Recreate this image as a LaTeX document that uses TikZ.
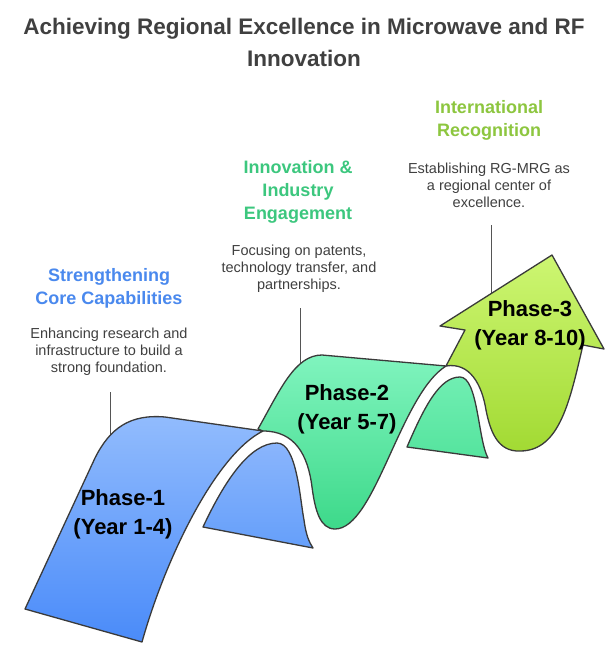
\documentclass[tikz,border=0pt]{standalone}
\usepackage{fontspec}
\setmainfont{Liberation Sans}
\definecolor{edge}{HTML}{3A3A3A}
\definecolor{conngray}{HTML}{555555}
\definecolor{titlegray}{HTML}{404040}
\definecolor{descgray}{HTML}{404040}
\definecolor{headblue}{HTML}{4A89EE}
\definecolor{headgreen}{HTML}{3CC77E}
\definecolor{headlime}{HTML}{8DC63F}
\definecolor{blueTop}{HTML}{92BCFD}
\definecolor{blueBot}{HTML}{4A8BF9}
\definecolor{blueBackTop}{HTML}{8AB5FC}
\definecolor{blueBackBot}{HTML}{659FFA}
\definecolor{greenTop}{HTML}{80F4BE}
\definecolor{greenBot}{HTML}{3DD98A}
\definecolor{greenBackTop}{HTML}{70EEB2}
\definecolor{greenBackBot}{HTML}{55E49E}
\definecolor{limeTop}{HTML}{CDF672}
\definecolor{limeBot}{HTML}{A2DA33}
\begin{document}
\begin{tikzpicture}[x=1pt,y=-1pt,
  outline/.style={draw=edge, line width=1.3pt, line join=round},
  blueface/.style={outline, top color=blueTop, bottom color=blueBot},
  blueback/.style={outline, top color=blueBackTop, bottom color=blueBackBot},
  greenface/.style={outline, top color=greenTop, bottom color=greenBot},
  greenback/.style={outline, top color=greenBackTop, bottom color=greenBackBot},
  limeface/.style={outline, top color=limeTop, bottom color=limeBot},
  conn/.style={draw=conngray, line width=1pt},
  titletext/.style={font=\bfseries\fontsize{22.5}{32}\selectfont, text=titlegray, align=center, inner sep=0pt},
  headtext/.style={font=\bfseries\fontsize{18}{23}\selectfont, align=center, inner sep=0pt},
  desctext/.style={font=\fontsize{14.5}{17}\selectfont, text=descgray, align=center, inner sep=0pt},
  phasetext/.style={font=\bfseries\fontsize{22}{29}\selectfont, text=black, align=center, inner sep=0pt}
]
\fill[white] (0,0) rectangle (608,648);
\useasboundingbox (0,0) rectangle (608,648);

% connectors
\coordinate (c1a) at (110,392); \coordinate (c1b) at (110,440);
\coordinate (c2a) at (300,308); \coordinate (c2b) at (300,370);
\coordinate (c3a) at (491,225); \coordinate (c3b) at (491,298);
\draw[conn] (c1a) -- (c1b);
\draw[conn] (c2a) -- (c2b);
\draw[conn] (c3a) -- (c3b);

% phase 3 arrow
\path[limeface] (465,330) -- (440,326) -- (552,255) -- (604,349) -- (583,345)
  .. controls (570,400) and (560,451) .. (520,451)
  .. controls (497,452) and (490,430) .. (486,410)
  .. controls (482,385) and (470,362) .. (446,366) -- cycle;

% phase 2 back face
\path[greenback] (407,447) .. controls (425,405) and (440,377) .. (460,377)
  .. controls (478,377) and (478,440) .. (488,458) -- cycle;

% phase 2 face
\path[greenface] (258,429) .. controls (280,390) and (295,355) .. (322,355) -- (446,366)
  .. controls (400,395) and (375,529) .. (335,529)
  .. controls (320,529) and (315,510) .. (312,487)
  .. controls (308,455) and (295,431) .. (263,431) -- cycle;

% phase 1 back face
\path[blueback] (203,527) .. controls (225,480) and (250,443) .. (277,443)
  .. controls (297,443) and (300,500) .. (304,520)
  .. controls (306,535) and (309,542) .. (313,548) -- cycle;

% phase 1 front face
\path[blueface] (25,609) -- (95,458) .. controls (110,428) and (130,414) .. (165,417)
  -- (263,431) .. controls (215,455) and (165,560) .. (142,642) -- cycle;

% texts (anchor base = baseline of the last line)
\node[titletext, anchor=base] (title) at (304,66.5) {Achieving Regional Excellence in Microwave and RF\\Innovation};

\node[headtext, text=headblue, anchor=base] (h1) at (109,304) {Strengthening\\Core Capabilities};
\node[desctext, anchor=base] (d1) at (109,372) {Enhancing research and\\infrastructure to build a\\strong foundation.};

\node[headtext, text=headgreen, anchor=base] (h2) at (298,219) {Innovation \&\\Industry\\Engagement};
\node[desctext, anchor=base] (d2) at (299,289) {Focusing on patents,\\technology transfer, and\\partnerships.};

\node[headtext, text=headlime, anchor=base] (h3) at (489,136) {International\\Recognition};
\node[desctext, anchor=base] (d3) at (489,207) {Establishing RG-MRG as\\a regional center of\\excellence.};

\node[phasetext, anchor=base] (p1) at (123,534) {Phase-1\\(Year 1-4)};
\node[phasetext, anchor=base] (p2) at (347,429) {Phase-2\\(Year 5-7)};
\node[phasetext, anchor=base] (p3) at (530,345) {Phase-3\\(Year 8-10)};
\end{tikzpicture}
\end{document}
